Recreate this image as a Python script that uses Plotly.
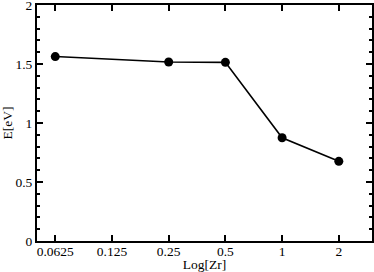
import plotly.graph_objects as go
import math

x_vals = [0.0625, 0.25, 0.5, 1, 2]
y_vals = [1.563, 1.517, 1.514, 0.875, 0.675]
x_ticks = [0.0625, 0.125, 0.25, 0.5, 1, 2]
x_tick_text = ["0.0625", "0.125", "0.25", "0.5", "1", "2"]
y_ticks = [0, 0.5, 1, 1.5, 2]
y_tick_text = ["0", "0.5", "1", "1.5", "2"]

font = dict(family="Liberation Serif", size=13.5, color="black")

fig = go.Figure()
fig.add_trace(go.Scatter(
    x=x_vals, y=y_vals, mode="lines+markers",
    line=dict(color="black", width=1.6),
    marker=dict(color="black", size=9),
    showlegend=False,
    cliponaxis=False,
))

fig.update_layout(
    width=374, height=272,
    margin=dict(l=37, r=2, t=5, b=31),
    paper_bgcolor="white", plot_bgcolor="white",
    font=font,
)
fig.update_xaxes(
    type="log", range=[math.log10(0.05), math.log10(3)],
    tickvals=x_ticks, ticktext=x_tick_text,
    ticks="inside", ticklen=6, tickwidth=1.5, tickcolor="black",
    showline=True, linecolor="black", linewidth=2, mirror="ticks",
    showgrid=False, zeroline=False, automargin=False,
    ticklabelstandoff=-3,
    title=dict(text="Log[Zr]", standoff=0, font=font),
    tickfont=font,
)
fig.update_yaxes(
    range=[0, 2],
    tickvals=y_ticks, ticktext=y_tick_text,
    ticks="inside", ticklen=6, tickwidth=1.5, tickcolor="black",
    minor=dict(ticks="inside", ticklen=3, tickwidth=1.5, tickcolor="black", dtick=0.1, showgrid=False),
    showline=True, linecolor="black", linewidth=2, mirror="ticks",
    showgrid=False, zeroline=False, automargin=False,
    ticklabeloverflow="allow",
    title=dict(text="E[eV]", standoff=4, font=font),
    tickfont=font,
)

fig.write_html("out.html", config={"displayModeBar": False},
               post_script="document.body.style.margin='0';document.body.style.overflow='hidden';")
